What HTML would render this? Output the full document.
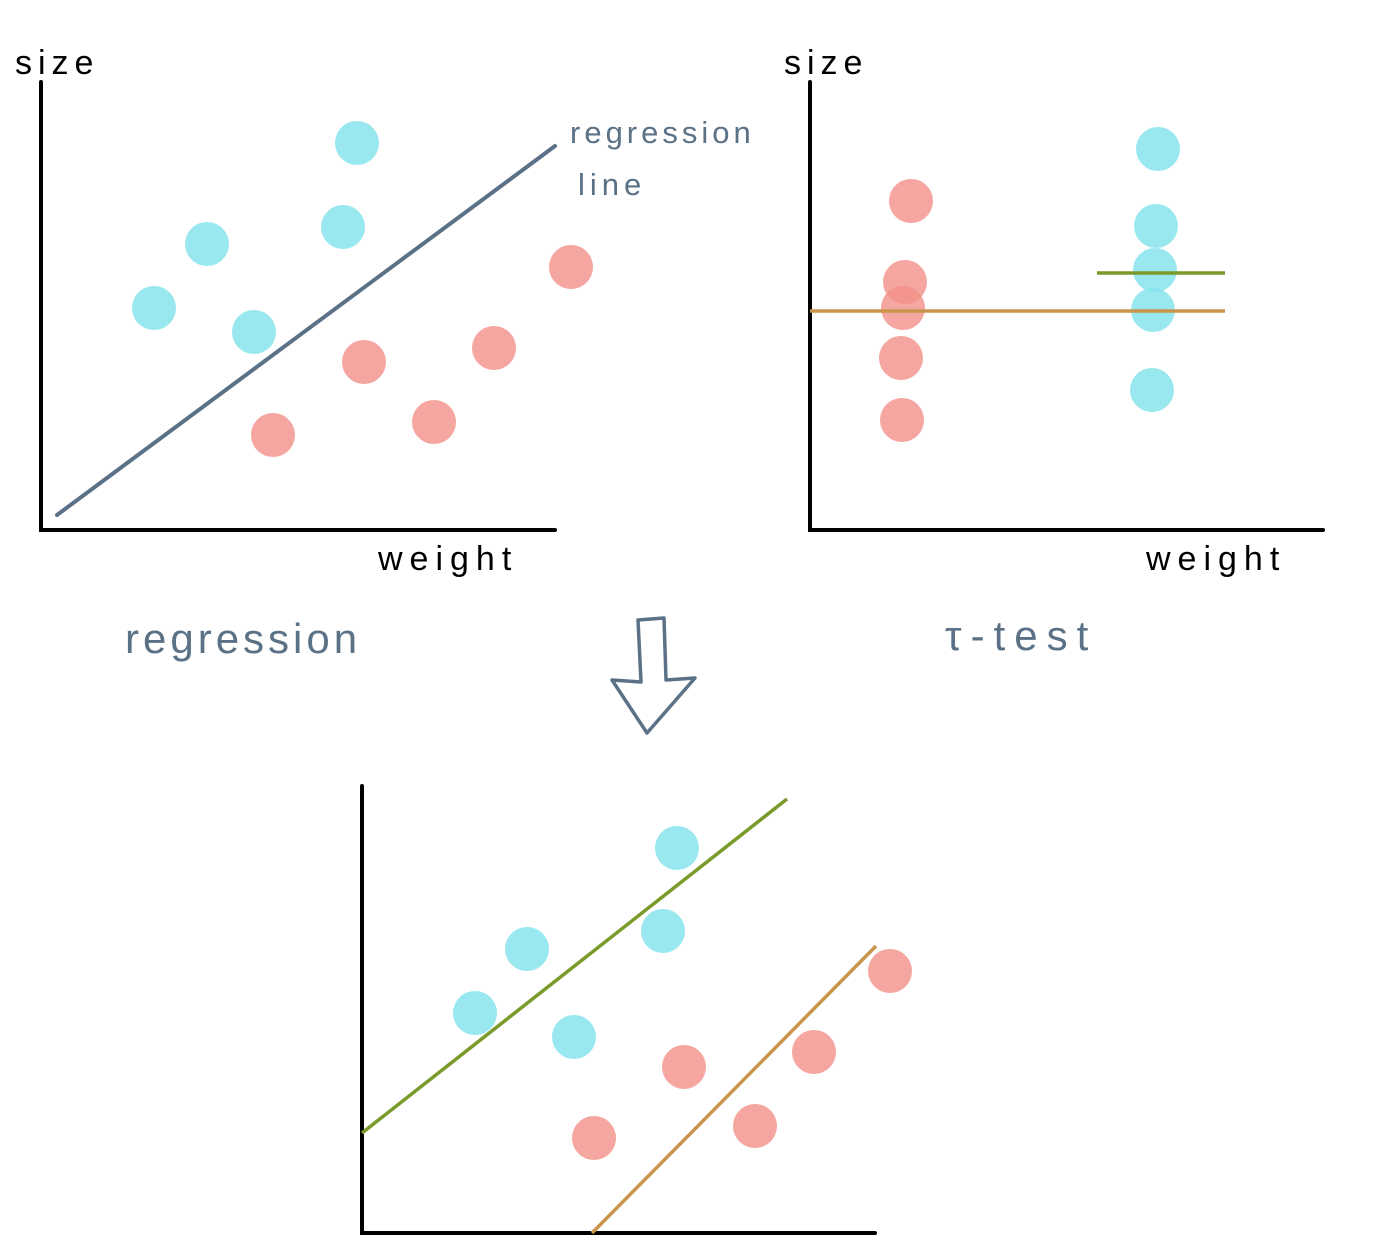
<!DOCTYPE html>
<html><head><meta charset="utf-8"><style>
html,body{margin:0;padding:0;background:#fff;width:1380px;height:1256px;overflow:hidden}
svg text{font-family:"Liberation Sans",sans-serif}
</style></head><body>
<svg width="1380" height="1256" viewBox="0 0 1380 1256" xmlns="http://www.w3.org/2000/svg">
<g stroke="#000" stroke-width="4" fill="none" stroke-linecap="round">
<path d="M41 82 V530 H555"/>
<path d="M810 82 V530 H1323"/>
<path d="M362 786 V1233 H875"/>
</g>
<line x1="57" y1="515" x2="555" y2="146" stroke="#5a7186" stroke-width="4" stroke-linecap="round"/>
<g fill="#7fe2ec" fill-opacity="0.8">
<circle cx="357" cy="143" r="22"/><circle cx="207" cy="244" r="22"/><circle cx="343" cy="227" r="22"/><circle cx="154" cy="308" r="22"/><circle cx="254" cy="332" r="22"/>
<circle cx="1158" cy="149" r="22"/><circle cx="1156" cy="226" r="22"/><circle cx="1155" cy="270" r="22"/><circle cx="1153" cy="310" r="22"/><circle cx="1152" cy="390" r="22"/>
<circle cx="677" cy="848" r="22"/><circle cx="527" cy="949" r="22"/><circle cx="663" cy="931" r="22"/><circle cx="475" cy="1013" r="22"/><circle cx="574" cy="1037" r="22"/>
</g>
<g fill="#f39088" fill-opacity="0.8">
<circle cx="571" cy="267" r="22"/><circle cx="364" cy="362" r="22"/><circle cx="494" cy="348" r="22"/><circle cx="273" cy="435" r="22"/><circle cx="434" cy="422" r="22"/>
<circle cx="911" cy="201" r="22"/><circle cx="905" cy="282" r="22"/><circle cx="903" cy="308" r="22"/><circle cx="901" cy="358" r="22"/><circle cx="902" cy="420" r="22"/>
<circle cx="890" cy="971" r="22"/><circle cx="684" cy="1067" r="22"/><circle cx="814" cy="1052" r="22"/><circle cx="594" cy="1138" r="22"/><circle cx="755" cy="1126" r="22"/>
</g>
<line x1="810" y1="311" x2="1225" y2="311" stroke="#c8954a" stroke-width="3.5"/>
<line x1="1097" y1="273" x2="1225" y2="273" stroke="#7a9a2a" stroke-width="3.5"/>
<line x1="362" y1="1133" x2="787" y2="799" stroke="#7a9a2a" stroke-width="3.5"/>
<line x1="592" y1="1233" x2="876" y2="946" stroke="#c8954a" stroke-width="3.5"/>
<path d="M638 620 L664 618 L666 680 L695 678 L647 733 L612 680 L641 682 Z" fill="none" stroke="#5a7186" stroke-width="3.5" stroke-linejoin="round"/>
<g fill="#000" font-size="34">
<text x="15" y="74" letter-spacing="6">size</text>
<text x="784" y="74" letter-spacing="6">size</text>
<text x="378" y="570" letter-spacing="7">weight</text>
<text x="1146" y="570" letter-spacing="7">weight</text>
</g>
<g fill="#5a7186">
<text x="570" y="143" font-size="31" letter-spacing="4">regression</text>
<text x="578" y="195" font-size="31" letter-spacing="5">line</text>
<text x="125" y="653" font-size="42" letter-spacing="4">regression</text>
<text x="945" y="650" font-size="42" letter-spacing="9">τ-test</text>
</g>
</svg>
</body></html>
